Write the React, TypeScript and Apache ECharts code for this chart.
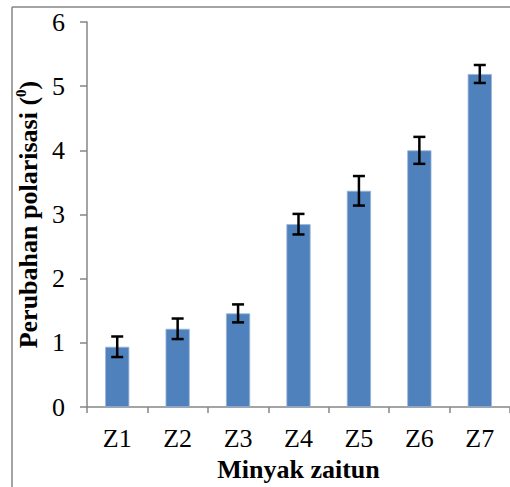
import React, { useEffect, useRef } from "react";
import * as echarts from "echarts";

const categories = ["Z1", "Z2", "Z3", "Z4", "Z5", "Z6", "Z7"];
const values = [0.94, 1.22, 1.46, 2.85, 3.37, 4.0, 5.19];
const errors = [0.16, 0.16, 0.14, 0.16, 0.23, 0.21, 0.14];
const yTicks = [0, 1, 2, 3, 4, 5, 6];

const FONT = "Liberation Serif";
const AXIS_COLOR = "#868686";
const FS = 26;

export default function App() {
  const ref = useRef<HTMLDivElement>(null);
  useEffect(() => {
    if (!ref.current) return;
    const chart = echarts.init(ref.current, undefined, { renderer: "svg" });
    const errData = categories.map((c, i) => [i, values[i] - errors[i], values[i] + errors[i]]);
    chart.setOption({
      animation: false,
      backgroundColor: "#ffffff",
      textStyle: { fontFamily: FONT },
      graphic: [
        { type: "line", shape: { x1: 12, y1: 7, x2: 12, y2: 487 }, style: { stroke: AXIS_COLOR, lineWidth: 1.5 } },
        { type: "line", shape: { x1: 12, y1: 7, x2: 510, y2: 7 }, style: { stroke: AXIS_COLOR, lineWidth: 1.5 } },
      ],
      grid: { left: 87, top: 22, width: 432, height: 386 },
      xAxis: {
        type: "category",
        data: categories,
        boundaryGap: true,
        axisLine: { lineStyle: { color: AXIS_COLOR, width: 1.5 } },
        axisTick: { show: true, length: 6, lineStyle: { color: AXIS_COLOR, width: 1.5 } },
        axisLabel: { color: "#000", fontSize: FS, fontFamily: FONT, margin: 18 },
        name: "Minyak zaitun",
        nameLocation: "middle",
        nameGap: 47,
        nameTextStyle: { color: "#000", fontSize: FS, fontWeight: "bold", fontFamily: FONT },
      },
      yAxis: {
        type: "value",
        min: yTicks[0],
        max: yTicks[yTicks.length - 1],
        interval: 1,
        axisLine: { show: true, lineStyle: { color: AXIS_COLOR, width: 1.5 } },
        axisTick: { show: true, length: 7, lineStyle: { color: AXIS_COLOR, width: 1.5 } },
        splitLine: { show: false },
        axisLabel: { color: "#000", fontSize: FS, fontFamily: FONT, margin: 22 },
        name: "{a|Perubahan polarisasi (}{s|0}{a|)}",
        nameLocation: "middle",
        nameGap: 36,
        nameTextStyle: {
          rich: {
            a: { color: "#000", fontSize: FS, fontWeight: "bold", fontFamily: FONT, lineHeight: 28, verticalAlign: "bottom" },
            s: { color: "#000", fontSize: 15, fontWeight: "bold", fontFamily: FONT, lineHeight: 28, verticalAlign: "top" },
          },
        },
      },
      series: [
        {
          type: "bar",
          data: values,
          barWidth: "40%",
          itemStyle: { color: "#4f81bd", borderColor: "#9ab5d9", borderWidth: 0.8 },
        },
        {
          type: "custom",
          data: errData,
          z: 10,
          renderItem: (params: any, api: any) => {
            const x = api.value(0);
            const lo = api.coord([x, api.value(1)]);
            const hi = api.coord([x, api.value(2)]);
            const hw = 6;
            const style = { stroke: "#000", lineWidth: 2.5, fill: "none" };
            return {
              type: "group",
              children: [
                { type: "line", shape: { x1: hi[0], y1: hi[1], x2: lo[0], y2: lo[1] }, style },
                { type: "line", shape: { x1: hi[0] - hw, y1: hi[1], x2: hi[0] + hw, y2: hi[1] }, style },
                { type: "line", shape: { x1: lo[0] - hw, y1: lo[1], x2: lo[0] + hw, y2: lo[1] }, style },
              ],
            };
          },
        },
      ],
    });
    return () => chart.dispose();
  }, []);
  return <div ref={ref} style={{ width: 510, height: 487, position: "fixed", left: 0, top: 0 }} />;
}
